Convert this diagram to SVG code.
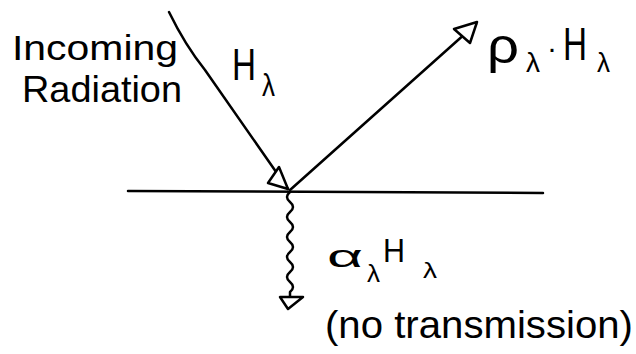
<svg xmlns="http://www.w3.org/2000/svg" width="636" height="354" viewBox="0 0 636 354">
<style>
.ln{fill:none;stroke:#000;stroke-width:2.5;stroke-linecap:round;stroke-linejoin:round}
.ah{fill:#fff;stroke:#000;stroke-width:2.5;stroke-linejoin:round}
.t{font-family:"Liberation Sans","DejaVu Sans",sans-serif;fill:#000}
</style>
<rect width="636" height="354" fill="#fff"/>
<g id="surface"><path class="ln" d="M128,191 L543,193"/></g>
<g id="connectors">
<path class="ln" d="M169,12 Q185,45 205,70 L288,189"/>
<polygon class="ah" points="288,189 268,183 279,167"/>
<path class="ln" d="M290,190 L476,24"/>
<polygon class="ah" points="477,22 454,29 470,43"/>
<path class="ln" d="M290,192 q-6,5 0,10 q6,5 0,10 q-6,5 0,10 q6,5 0,10 q-6,5 0,10 q6,5 0,10 q-6,5 0,10 q6,5 0,10 q-6,5 0,10 q6,5 0,10 L290,300"/>
<polygon class="ah" points="280,297 303,297 288,309"/>
</g>
<g id="incoming">
<text class="t" x="12" y="60" font-size="35" textLength="166" lengthAdjust="spacingAndGlyphs">Incoming</text>
<text class="t" x="22" y="102" font-size="37" textLength="160" lengthAdjust="spacingAndGlyphs">Radiation</text>
<text class="t" x="232" y="80" font-size="44" textLength="24" lengthAdjust="spacingAndGlyphs">H</text>
<text class="t" x="262" y="96" font-size="32" textLength="13" lengthAdjust="spacingAndGlyphs">λ</text>
</g>
<g id="reflected">
<text class="t" x="487" y="63" font-size="50" textLength="32" lengthAdjust="spacingAndGlyphs">ρ</text>
<text class="t" x="526" y="72" font-size="28" textLength="14" lengthAdjust="spacingAndGlyphs">λ</text>
<text class="t" x="547" y="58" font-size="30">·</text>
<text class="t" x="563" y="60" font-size="47" textLength="24" lengthAdjust="spacingAndGlyphs">H</text>
<text class="t" x="597" y="72" font-size="27" textLength="13" lengthAdjust="spacingAndGlyphs">λ</text>
</g>
<g id="absorbed">
<text class="t" x="327" y="267" font-size="32" textLength="36" lengthAdjust="spacingAndGlyphs">α</text>
<text class="t" x="367" y="282" font-size="24" textLength="13" lengthAdjust="spacingAndGlyphs">λ</text>
<text class="t" x="383" y="262" font-size="33" textLength="22" lengthAdjust="spacingAndGlyphs">H</text>
<text class="t" x="423" y="278" font-size="22" textLength="14" lengthAdjust="spacingAndGlyphs">λ</text>
<text class="t" x="325" y="338" font-size="38" textLength="308" lengthAdjust="spacingAndGlyphs">(no transmission)</text>
</g>
</svg>
